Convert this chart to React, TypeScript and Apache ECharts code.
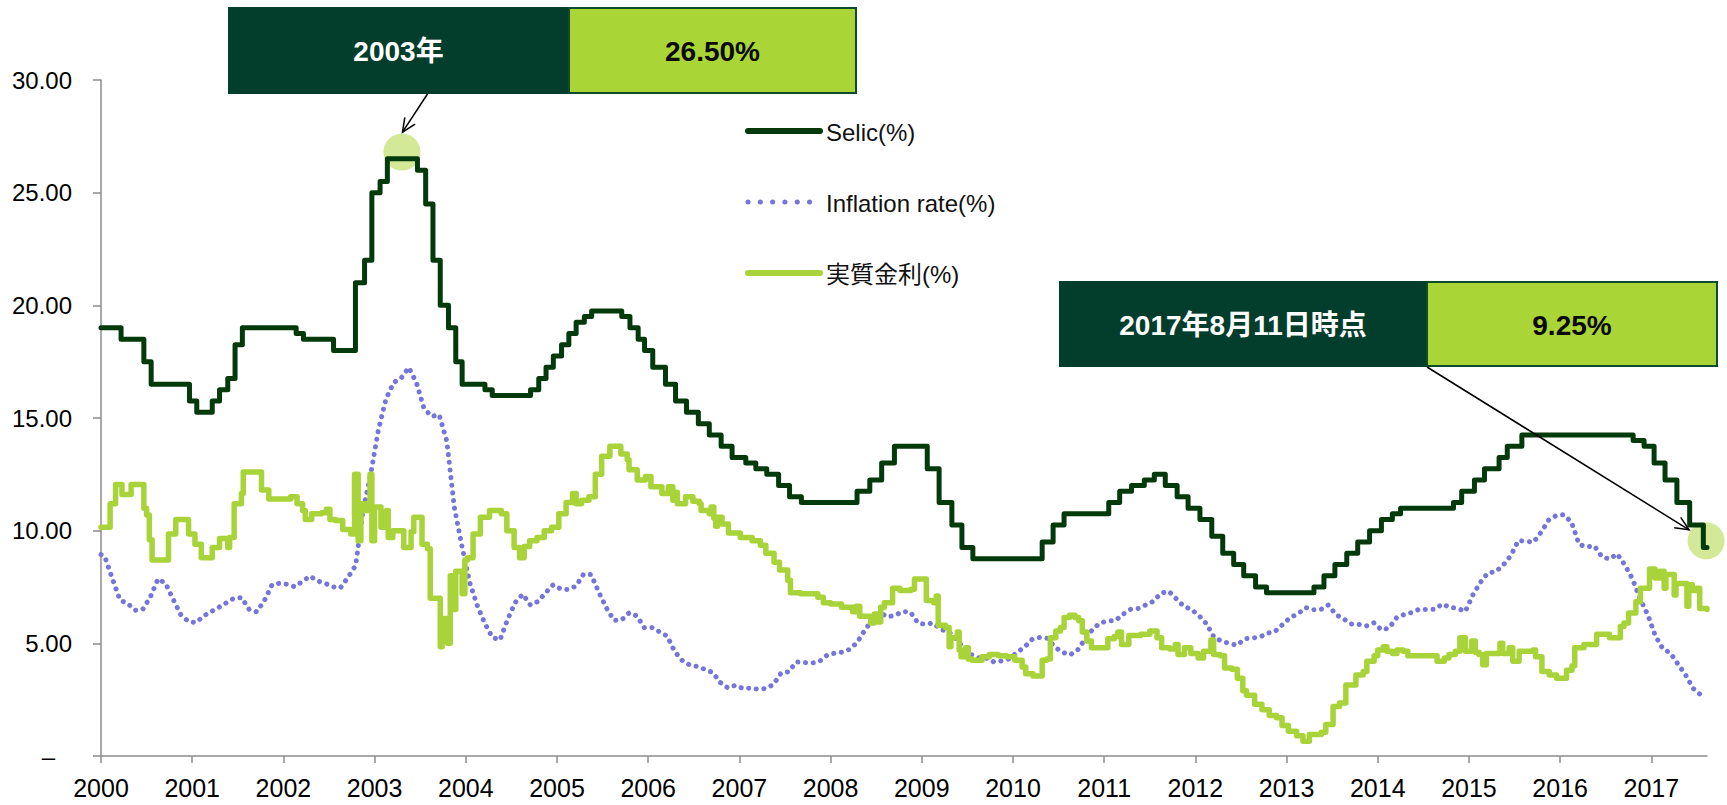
import React, { useEffect, useRef } from 'react';
import * as echarts from 'echarts';

// ---- axis ticks ----
const yearTicks = [2000, 2001, 2002, 2003, 2004, 2005, 2006, 2007, 2008, 2009, 2010, 2011, 2012, 2013, 2014, 2015, 2016, 2017];
const xMin = 2000;
const xMax = 2017.61; // 2017-08-11
const yMin = 0;
const yMax = 30;
const yStep = 5;

// ---- series names ----
const nameSelic = 'Selic(%)';
const nameInfl = 'Inflation rate(%)';
const nameReal = '実質金利(%)';

// ---- Selic policy rate: [date (decimal year), rate] change points ----
const selicSteps: [number, number][] = [
  [2000.0, 19.0], [2000.22, 18.5], [2000.47, 17.5], [2000.55, 16.5], [2000.97, 15.75],
  [2001.05, 15.25], [2001.22, 15.75], [2001.3, 16.25], [2001.39, 16.75], [2001.47, 18.25], [2001.55, 19.0],
  [2002.14, 18.75], [2002.22, 18.5], [2002.55, 18.0], [2002.79, 21.0], [2002.89, 22.0], [2002.97, 25.0],
  [2003.06, 25.5], [2003.14, 26.5], [2003.47, 26.0], [2003.56, 24.5], [2003.64, 22.0], [2003.72, 20.0],
  [2003.81, 19.0], [2003.89, 17.5], [2003.96, 16.5],
  [2004.21, 16.25], [2004.29, 16.0], [2004.71, 16.25], [2004.8, 16.75], [2004.88, 17.25], [2004.96, 17.75],
  [2005.05, 18.25], [2005.13, 18.75], [2005.21, 19.25], [2005.3, 19.5], [2005.38, 19.75], [2005.71, 19.5],
  [2005.8, 19.0], [2005.89, 18.5], [2005.96, 18.0],
  [2006.05, 17.25], [2006.19, 16.5], [2006.3, 15.75], [2006.42, 15.25], [2006.55, 14.75], [2006.67, 14.25],
  [2006.8, 13.75], [2006.92, 13.25],
  [2007.07, 13.0], [2007.18, 12.75], [2007.3, 12.5], [2007.43, 12.0], [2007.55, 11.5], [2007.68, 11.25],
  [2008.29, 11.75], [2008.43, 12.25], [2008.56, 13.0], [2008.7, 13.75],
  [2009.06, 12.75], [2009.19, 11.25], [2009.33, 10.25], [2009.44, 9.25], [2009.56, 8.75],
  [2010.32, 9.5], [2010.44, 10.25], [2010.56, 10.75],
  [2011.05, 11.25], [2011.17, 11.75], [2011.3, 12.0], [2011.44, 12.25], [2011.55, 12.5], [2011.67, 12.0],
  [2011.8, 11.5], [2011.92, 11.0],
  [2012.05, 10.5], [2012.18, 9.75], [2012.3, 9.0], [2012.42, 8.5], [2012.53, 8.0], [2012.66, 7.5], [2012.78, 7.25],
  [2013.3, 7.5], [2013.41, 8.0], [2013.53, 8.5], [2013.66, 9.0], [2013.78, 9.5], [2013.91, 10.0],
  [2014.04, 10.5], [2014.16, 10.75], [2014.25, 11.0], [2014.83, 11.25], [2014.92, 11.75],
  [2015.06, 12.25], [2015.17, 12.75], [2015.33, 13.25], [2015.42, 13.75], [2015.58, 14.25],
  [2016.8, 14.0], [2016.92, 13.75],
  [2017.03, 13.0], [2017.15, 12.25], [2017.28, 11.25], [2017.42, 10.25], [2017.57, 9.25], [2017.61, 9.25],
];

// ---- Inflation rate, 12-month, monthly: Dec 1999 .. Jul 2017 ----
const inflStartMonth = 1999 + 11 / 12; // Dec 1999
const inflation1999 = [8.94];
const inflation2000 = [8.85, 7.86, 6.92, 6.77, 6.47, 6.51, 7.06, 7.86, 7.66, 6.95, 6.27, 5.97];
const inflation2001 = [5.92, 6.21, 6.41, 6.6, 6.8, 7.0, 7.03, 6.5, 6.4, 6.9, 7.6, 7.67];
const inflation2002 = [7.62, 7.51, 7.75, 7.98, 7.77, 7.66, 7.51, 7.46, 7.93, 8.45, 10.93, 12.53];
const inflation2003 = [14.47, 15.85, 16.57, 16.77, 17.24, 16.57, 15.43, 15.07, 15.14, 13.98, 11.02, 9.3];
const inflation2004 = [7.71, 6.69, 5.89, 5.26, 5.15, 6.06, 6.81, 7.18, 6.7, 6.86, 7.24, 7.6];
const inflation2005 = [7.41, 7.39, 7.54, 8.07, 8.05, 7.27, 6.57, 6.02, 6.04, 6.36, 6.22, 5.69];
const inflation2006 = [5.7, 5.51, 5.32, 4.63, 4.23, 4.03, 3.97, 3.84, 3.7, 3.26, 3.02, 3.14];
const inflation2007 = [2.99, 3.02, 2.96, 3.0, 3.18, 3.69, 3.74, 4.18, 4.15, 4.12, 4.19, 4.46];
const inflation2008 = [4.56, 4.61, 4.73, 5.04, 5.58, 6.06, 6.37, 6.17, 6.25, 6.41, 6.39, 5.9];
const inflation2009 = [5.84, 5.9, 5.61, 5.53, 5.2, 4.8, 4.5, 4.36, 4.34, 4.17, 4.22, 4.31];
const inflation2010 = [4.59, 4.83, 5.17, 5.26, 5.22, 4.84, 4.6, 4.49, 4.7, 5.2, 5.63, 5.91];
const inflation2011 = [5.99, 6.01, 6.3, 6.51, 6.55, 6.71, 6.87, 7.23, 7.31, 6.97, 6.64, 6.5];
const inflation2012 = [6.22, 5.85, 5.24, 5.1, 4.99, 4.92, 5.2, 5.24, 5.28, 5.45, 5.53, 5.84];
const inflation2013 = [6.15, 6.31, 6.59, 6.49, 6.5, 6.7, 6.27, 6.09, 5.86, 5.84, 5.77, 5.91];
const inflation2014 = [5.59, 5.68, 6.15, 6.28, 6.37, 6.52, 6.5, 6.51, 6.75, 6.59, 6.56, 6.41];
const inflation2015 = [7.14, 7.7, 8.13, 8.17, 8.47, 8.89, 9.56, 9.53, 9.49, 9.93, 10.48, 10.67];
const inflation2016 = [10.71, 10.36, 9.39, 9.28, 9.32, 8.84, 8.74, 8.97, 8.48, 7.87, 6.99, 6.29];
const inflation2017 = [5.35, 4.76, 4.57, 4.08, 3.6, 3.0, 2.71];

const realSteps: [number, number][] = [
  [2000.0, 10.15], [2000.1, 11.2], [2000.16, 12.05], [2000.23, 11.6], [2000.33, 12.05], [2000.47, 11.0],
  [2000.5, 10.7], [2000.53, 9.6], [2000.56, 8.7], [2000.74, 9.85], [2000.82, 10.5], [2000.96, 9.85],
  [2001.03, 9.4], [2001.1, 8.8], [2001.22, 9.25], [2001.3, 9.65], [2001.39, 9.25], [2001.41, 9.7],
  [2001.46, 11.2], [2001.54, 11.65], [2001.56, 12.6], [2001.76, 11.8], [2001.84, 11.4],
  [2002.08, 11.5], [2002.15, 11.2], [2002.21, 10.9], [2002.24, 10.5], [2002.31, 10.75], [2002.42, 10.8],
  [2002.47, 10.95], [2002.51, 10.5], [2002.57, 10.45], [2002.65, 10.05], [2002.74, 9.85], [2002.78, 12.5],
  [2002.82, 9.55], [2002.85, 11.2], [2002.9, 10.9], [2002.95, 12.5], [2002.97, 9.55],
  [2003.0, 11.05], [2003.07, 10.15], [2003.13, 10.9], [2003.15, 9.7], [2003.2, 10.0], [2003.32, 9.25],
  [2003.4, 9.95], [2003.43, 10.6], [2003.52, 9.4], [2003.58, 9.2], [2003.61, 7.0], [2003.72, 4.85],
  [2003.74, 6.1], [2003.8, 5.0], [2003.83, 8.0], [2003.87, 6.5], [2003.89, 8.2], [2003.96, 7.2], [2003.99, 8.7],
  [2004.02, 8.8], [2004.08, 9.85], [2004.16, 10.6], [2004.26, 10.9], [2004.39, 10.75], [2004.45, 10.0],
  [2004.53, 9.25], [2004.59, 8.8], [2004.64, 9.3], [2004.7, 9.55], [2004.78, 9.7], [2004.86, 10.0], [2004.94, 10.15],
  [2005.02, 10.75], [2005.1, 11.25], [2005.17, 11.65], [2005.21, 11.2], [2005.27, 11.35], [2005.35, 11.5],
  [2005.42, 12.5], [2005.49, 13.3], [2005.58, 13.75], [2005.7, 13.4], [2005.77, 13.15], [2005.79, 12.7],
  [2005.88, 12.25], [2005.97, 12.4],
  [2006.03, 11.95], [2006.15, 11.65], [2006.22, 11.95], [2006.27, 11.35], [2006.3, 11.7], [2006.32, 11.2],
  [2006.41, 11.5], [2006.49, 11.3], [2006.56, 11.2], [2006.58, 10.9], [2006.67, 10.75], [2006.69, 11.05],
  [2006.72, 10.55], [2006.74, 10.2], [2006.76, 10.6], [2006.81, 10.3], [2006.88, 9.9],
  [2007.01, 9.7], [2007.14, 9.55], [2007.23, 9.35], [2007.29, 9.0], [2007.38, 8.6], [2007.44, 8.25],
  [2007.53, 7.8], [2007.56, 7.25], [2007.67, 7.2], [2007.86, 7.05], [2007.92, 6.8],
  [2008.0, 6.75], [2008.12, 6.6], [2008.24, 6.4], [2008.28, 6.65], [2008.32, 6.2], [2008.44, 5.9],
  [2008.48, 6.3], [2008.52, 5.95], [2008.55, 6.6], [2008.59, 6.8], [2008.68, 7.45], [2008.76, 7.35],
  [2008.88, 7.4], [2008.92, 7.85],
  [2009.05, 6.9], [2009.13, 6.8], [2009.16, 7.1], [2009.18, 5.8], [2009.26, 5.7], [2009.3, 4.85],
  [2009.32, 5.25], [2009.39, 5.5], [2009.41, 4.7], [2009.43, 4.4], [2009.48, 4.8], [2009.51, 4.3],
  [2009.55, 4.25], [2009.66, 4.4], [2009.74, 4.5], [2009.84, 4.45], [2009.93, 4.4],
  [2010.02, 4.25], [2010.1, 3.95], [2010.14, 3.65], [2010.22, 3.55], [2010.32, 4.25], [2010.37, 4.3],
  [2010.41, 5.25], [2010.47, 5.55], [2010.52, 5.7], [2010.56, 6.15], [2010.62, 6.25], [2010.68, 6.15],
  [2010.72, 6.0], [2010.76, 5.5], [2010.81, 5.1], [2010.86, 4.8],
  [2011.04, 5.2], [2011.11, 5.3], [2011.15, 5.5], [2011.19, 4.95], [2011.27, 5.35], [2011.4, 5.4],
  [2011.5, 5.55], [2011.58, 5.25], [2011.63, 4.8], [2011.72, 4.75], [2011.78, 4.95], [2011.81, 4.5],
  [2011.88, 4.8], [2011.95, 4.55],
  [2012.03, 4.35], [2012.09, 4.65], [2012.17, 5.15], [2012.2, 4.5], [2012.27, 4.45], [2012.32, 3.9],
  [2012.4, 3.85], [2012.46, 3.45], [2012.52, 2.9], [2012.56, 2.7], [2012.65, 2.3], [2012.73, 2.05],
  [2012.81, 1.8], [2012.89, 1.7], [2012.95, 1.35],
  [2013.02, 1.1], [2013.11, 0.9], [2013.18, 0.65], [2013.25, 0.95], [2013.38, 1.05], [2013.43, 1.4],
  [2013.51, 2.2], [2013.58, 2.35], [2013.65, 3.15], [2013.76, 3.6], [2013.84, 3.75], [2013.88, 4.2], [2013.96, 4.45],
  [2014.0, 4.7], [2014.06, 4.85], [2014.1, 4.65], [2014.16, 4.55], [2014.21, 4.7], [2014.28, 4.65],
  [2014.33, 4.45], [2014.65, 4.2], [2014.73, 4.35], [2014.78, 4.5], [2014.85, 4.65], [2014.9, 5.25], [2014.96, 4.65],
  [2015.03, 5.1], [2015.07, 4.6], [2015.11, 4.5], [2015.15, 4.05], [2015.19, 4.55], [2015.34, 5.0],
  [2015.37, 4.55], [2015.44, 4.8], [2015.48, 4.2], [2015.55, 4.65], [2015.7, 4.7], [2015.73, 4.4],
  [2015.8, 3.75], [2015.88, 3.6], [2015.96, 3.45],
  [2016.07, 3.8], [2016.13, 4.0], [2016.16, 4.8], [2016.26, 4.95], [2016.4, 5.4], [2016.54, 5.25],
  [2016.66, 5.75], [2016.7, 5.9], [2016.75, 6.35], [2016.83, 6.85], [2016.88, 7.45], [2016.98, 8.3],
  [2017.04, 7.9], [2017.09, 8.2], [2017.14, 7.45], [2017.16, 8.05], [2017.25, 7.15], [2017.27, 7.65],
  [2017.39, 6.65], [2017.41, 7.6], [2017.45, 7.35], [2017.5, 7.45], [2017.53, 6.55], [2017.61, 6.5],
];

// ---- highlighted points (circles) ----
const highlightPeak: [number, number] = [2003.3, 26.8];
const highlightLast: [number, number] = [2017.6, 9.55];

// ---- annotation texts ----
const box1Left = '2003年';
const box1Right = '26.50%';
const box2Left = '2017年8月11日時点';
const box2Right = '9.25%';

const COL_SELIC = '#033a0b';
const COL_REAL = '#a8d43a';
const COL_INFL = '#7676d8';
const COL_DARKBOX = '#033d2c';
const COL_LIGHTBOX = '#a9d537';
const COL_CIRCLE = '#c8e47e';
const COL_AXIS = '#8c8c8c';
const FONT_NUM = "'Liberation Sans', Arial, sans-serif";
const FONT_MIX = "'Liberation Sans', 'Noto Sans CJK JP', sans-serif";

const SELIC_W = 5;
const REAL_W = 5.5;
const INFL_W = 5;
const INFL_DASH = [0.1, 7.6];

function arrowHead(from: number[], to: number[], len = 15, ang = 0.42): number[][] {
  const dx = to[0] - from[0];
  const dy = to[1] - from[1];
  const L = Math.hypot(dx, dy);
  const ux = dx / L;
  const uy = dy / L;
  const rot = (a: number) => [ux * Math.cos(a) - uy * Math.sin(a), ux * Math.sin(a) + uy * Math.cos(a)];
  const r1 = rot(ang);
  const r2 = rot(-ang);
  return [
    [to[0] - len * r1[0], to[1] - len * r1[1]],
    [to[0], to[1]],
    [to[0] - len * r2[0], to[1] - len * r2[1]],
  ];
}

export default function App() {
  const ref = useRef<HTMLDivElement>(null);

  useEffect(() => {
    if (!ref.current) return;
    const chart = echarts.init(ref.current, null, { renderer: 'svg' });

    const inflationAll = [
      ...inflation1999, ...inflation2000, ...inflation2001, ...inflation2002, ...inflation2003,
      ...inflation2004, ...inflation2005, ...inflation2006, ...inflation2007, ...inflation2008,
      ...inflation2009, ...inflation2010, ...inflation2011, ...inflation2012, ...inflation2013,
      ...inflation2014, ...inflation2015, ...inflation2016, ...inflation2017,
    ];
    // each monthly value placed at mid-month of its month (clipped to the axis start)
    const inflationData = inflationAll.map((v, i) => [Math.max(xMin, inflStartMonth + (i + 0.5) / 12), v]);

    chart.setOption({
      animation: false,
      backgroundColor: '#ffffff',
      grid: { left: 101, right: 20, top: 80, bottom: 49, containLabel: false },
      xAxis: {
        type: 'value',
        min: xMin,
        max: xMax,
        interval: 1,
        axisLine: { show: true, lineStyle: { color: COL_AXIS, width: 1.5 } },
        axisTick: { show: true, length: 7, lineStyle: { color: COL_AXIS, width: 1.5 }, customValues: yearTicks },
        axisLabel: {
          customValues: yearTicks,
          formatter: (v: number) => (Math.abs(v - Math.round(v)) < 1e-6 ? String(Math.round(v)) : ''),
          fontSize: 25,
          color: '#000',
          fontFamily: FONT_NUM,
          margin: 19,
        },
        splitLine: { show: false },
      },
      yAxis: {
        type: 'value',
        min: yMin,
        max: yMax,
        interval: yStep,
        axisLine: { show: true, lineStyle: { color: COL_AXIS, width: 1.5 } },
        axisTick: { show: true, length: 8, lineStyle: { color: COL_AXIS, width: 1.5 } },
        splitLine: { show: false },
        axisLabel: {
          margin: 29,
          fontSize: 24,
          color: '#000',
          fontFamily: FONT_NUM,
          formatter: (v: number) => (v === 0 ? '{d|–}' : v.toFixed(2)),
          rich: { d: { fontSize: 24, color: '#000', fontFamily: FONT_NUM, padding: [0, 17, 0, 0] } },
        },
      },
      series: [
        {
          name: 'highlight',
          type: 'scatter',
          data: [highlightPeak, highlightLast],
          symbol: 'circle',
          symbolSize: 37,
          itemStyle: { color: COL_CIRCLE },
          z: 1,
          silent: true,
        },
        {
          name: nameInfl,
          type: 'line',
          data: inflationData,
          symbol: 'none',
          lineStyle: { color: COL_INFL, width: INFL_W, type: INFL_DASH, cap: 'round' },
          z: 2,
        },
        {
          name: nameReal,
          type: 'line',
          step: 'end',
          data: realSteps,
          symbol: 'none',
          lineStyle: { color: COL_REAL, width: REAL_W, cap: 'round', join: 'round' },
          z: 3,
        },
        {
          name: nameSelic,
          type: 'line',
          step: 'end',
          data: selicSteps,
          symbol: 'none',
          lineStyle: { color: COL_SELIC, width: SELIC_W, cap: 'round', join: 'round' },
          z: 4,
        },
      ],
    });

    const p1 = chart.convertToPixel({ gridIndex: 0 }, highlightPeak) as number[];
    const p2 = chart.convertToPixel({ gridIndex: 0 }, highlightLast) as number[];

    // box geometry (layout)
    const b1 = { x: 228, y: 7, w: 628, h: 87, split: 569 };
    const b2 = { x: 1059, y: 281, w: 658, h: 86, split: 1427 };

    const a1From = [427.5, b1.y + b1.h];
    const a1To = [p1[0] + 0.5, p1[1] - 20];
    const a2From = [b2.split, b2.y + b2.h];
    const a2To = [p2[0] - 17, p2[1] - 11];

    const boxText = (x: number, y: number, text: string, color: string) => ({
      type: 'text',
      x,
      y,
      z: 101,
      style: {
        text,
        fill: color,
        font: `bold 28px ${FONT_MIX}`,
        align: 'center',
        verticalAlign: 'middle',
      },
    });

    // legend (drawn as graphic so the line samples match the series styles)
    const legX1 = 748;
    const legX2 = 820;
    const legTextX = 826;
    const legRows = [131, 202, 273];
    const legendItems: any[] = [
      { type: 'line', z: 50, shape: { x1: legX1, y1: legRows[0], x2: legX2, y2: legRows[0] }, style: { stroke: COL_SELIC, lineWidth: 6, lineCap: 'round' } },
      { type: 'line', z: 50, shape: { x1: legX1, y1: legRows[1], x2: legX2 - 8, y2: legRows[1] }, style: { stroke: COL_INFL, lineWidth: 5, lineCap: 'round', lineDash: [0.1, 12.2] } },
      { type: 'line', z: 50, shape: { x1: legX1, y1: legRows[2], x2: legX2, y2: legRows[2] }, style: { stroke: COL_REAL, lineWidth: 6, lineCap: 'round' } },
      ...[nameSelic, nameInfl, nameReal].map((t, i) => ({
        type: 'text',
        z: 50,
        x: legTextX,
        y: legRows[i] + 1,
        style: { text: t, fill: '#111', font: `24px ${FONT_MIX}`, align: 'left', verticalAlign: 'middle' },
      })),
    ];

    chart.setOption({
      graphic: [
        ...legendItems,
        { type: 'rect', z: 100, shape: { x: b1.x, y: b1.y, width: b1.split - b1.x, height: b1.h }, style: { fill: COL_DARKBOX } },
        { type: 'rect', z: 100, shape: { x: b1.split, y: b1.y + 1, width: b1.x + b1.w - b1.split, height: b1.h - 2 }, style: { fill: COL_LIGHTBOX, stroke: '#0e4a2c', lineWidth: 2 } },
        boxText((b1.x + b1.split) / 2, b1.y + b1.h / 2 + 1, box1Left, '#ffffff'),
        boxText((b1.split + b1.x + b1.w) / 2, b1.y + b1.h / 2 + 1, box1Right, '#0a0a0a'),
        { type: 'rect', z: 100, shape: { x: b2.x, y: b2.y, width: b2.split - b2.x, height: b2.h }, style: { fill: COL_DARKBOX } },
        { type: 'rect', z: 100, shape: { x: b2.split, y: b2.y + 1, width: b2.x + b2.w - b2.split, height: b2.h - 2 }, style: { fill: COL_LIGHTBOX, stroke: '#0e4a2c', lineWidth: 2 } },
        boxText((b2.x + b2.split) / 2, b2.y + b2.h / 2 + 1, box2Left, '#ffffff'),
        boxText((b2.split + b2.x + b2.w) / 2, b2.y + b2.h / 2 + 1, box2Right, '#0a0a0a'),
        { type: 'line', z: 102, shape: { x1: a1From[0], y1: a1From[1], x2: a1To[0], y2: a1To[1] }, style: { stroke: '#000', lineWidth: 1.5 } },
        { type: 'polyline', z: 102, shape: { points: arrowHead(a1From, a1To) }, style: { stroke: '#000', lineWidth: 1.5, fill: null } },
        { type: 'line', z: 102, shape: { x1: a2From[0], y1: a2From[1], x2: a2To[0], y2: a2To[1] }, style: { stroke: '#000', lineWidth: 1.5 } },
        { type: 'polyline', z: 102, shape: { points: arrowHead(a2From, a2To) }, style: { stroke: '#000', lineWidth: 1.5, fill: null } },
      ],
    });

    return () => {
      chart.dispose();
    };
  }, []);

  return (
    <div
      ref={ref}
      style={{ position: 'fixed', left: 0, top: 0, width: 1727, height: 805, background: '#fff' }}
    />
  );
}
